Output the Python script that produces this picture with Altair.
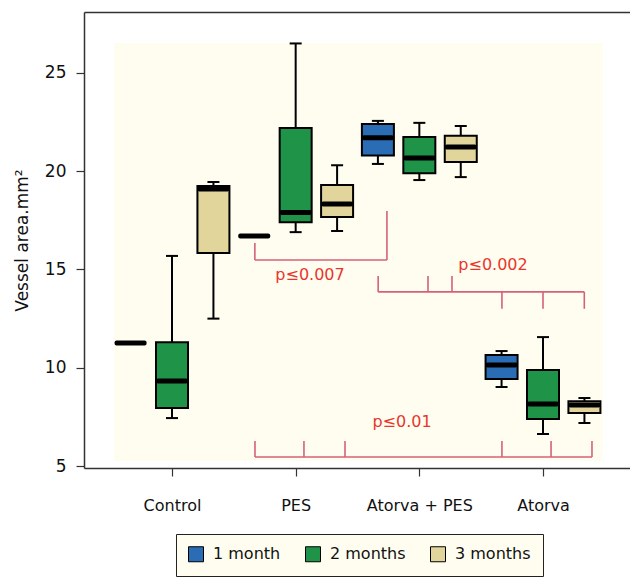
import altair as alt
import pandas as pd

# ---- data ----
groups = ["Control", "PES", "Atorva + PES", "Atorva"]
months = ["1 month", "2 months", "3 months"]
box_group = [g for g in groups for _ in months]
box_month = months * 4
q1 = [11.26, 7.95, 15.84, 16.7, 17.4, 17.67, 20.8, 19.9, 20.47, 9.43, 7.39, 7.7]
q3 = [11.26, 11.3, 19.25, 16.7, 22.2, 19.3, 22.4, 21.74, 21.8, 10.65, 9.89, 8.3]
median = [11.26, 9.33, 19.1, 16.7, 17.9, 18.33, 21.7, 20.67, 21.23, 10.14, 8.16, 8.1]
low = [11.26, 7.44, 12.5, 16.7, 16.9, 16.96, 20.37, 19.55, 19.7, 9.02, 6.63, 7.19]
high = [11.26, 15.69, 19.45, 16.7, 26.5, 20.3, 22.56, 22.46, 22.3, 10.85, 11.56, 8.46]
has_box = [False, True, True, False, True, True, True, True, True, True, True, True]

# significance brackets (segments in data units: group position, vessel area)
seg_x = [0.67, 0.67, 1.738,
         1.667, 1.667, 2.07, 2.264, 2.668, 3.0, 3.334,
         0.671, 0.671, 1.067, 1.399, 2.668, 3.065, 3.396]
seg_x2 = [0.67, 1.738, 1.738,
          3.334, 1.667, 2.07, 2.264, 2.668, 3.0, 3.334,
          3.396, 0.671, 1.067, 1.399, 2.668, 3.065, 3.396]
seg_y = [16.35, 15.48, 17.98,
         13.86, 14.67, 14.67, 14.67, 13.86, 13.86, 13.86,
         5.46, 6.27, 6.27, 6.27, 6.27, 6.27, 6.27]
seg_y2 = [15.48, 15.48, 15.48,
          13.86, 13.86, 13.86, 13.86, 13.0, 13.0, 13.0,
          5.46, 5.46, 5.46, 5.46, 5.46, 5.46, 5.46]
p_text = ["p≤0.007", "p≤0.002", "p≤0.01"]
p_x = [1.116, 2.596, 1.86]
p_y = [14.72, 15.23, 7.24]

panel_x = [-0.469]
panel_x2 = [3.485]
panel_y = [5.25]
panel_y2 = [26.53]

month_colors = ["#2a6db5", "#1f9347", "#e2d59b"]
OFFSET = 0.335

# ---- tables ----
gi = {g: i for i, g in enumerate(groups)}
mi = {m: i for i, m in enumerate(months)}
df = pd.DataFrame({
    "group": box_group, "month": box_month, "q1": q1, "q3": q3,
    "median": median, "low": low, "high": high, "has_box": has_box,
})
df["pos"] = [gi[g] + (mi[m] - 1) * OFFSET for g, m in zip(box_group, box_month)]
boxes = df[df["has_box"]]
segs = pd.DataFrame({"x": seg_x, "x2": seg_x2, "y": seg_y, "y2": seg_y2})
ptxt = pd.DataFrame({"t": p_text, "x": p_x, "y": p_y})
panel = pd.DataFrame({"x": panel_x, "x2": panel_x2, "y": panel_y, "y2": panel_y2})

FONT = "DejaVu Sans"
xscale = alt.Scale(domain=[-0.7116, 3.7035], nice=False, zero=False)
yscale = alt.Scale(domain=[4.9, 28.1], nice=False, zero=False)
label_expr = ("datum.value == 0 ? 'Control' : datum.value == 1 ? 'PES' : "
              "datum.value == 2 ? 'Atorva + PES' : 'Atorva'")
xaxis = alt.Axis(values=[0, 1, 2, 3], labelExpr=label_expr, title=None, grid=False,
                 tickSize=8, tickColor="#333", domainColor="#333", domainWidth=1.5,
                 tickWidth=1.2, labelPadding=21, labelFontSize=16, labelFont=FONT,
                 labelColor="#111")
yaxis = alt.Axis(values=[5, 10, 15, 20, 25], title="Vessel area.mm²", grid=False,
                 tickSize=8, tickColor="#333", domainColor="#333", domainWidth=1.5,
                 tickWidth=1.2, labelPadding=10, labelFontSize=17, labelFont=FONT,
                 labelColor="#111", titleFontSize=17, titleFont=FONT,
                 titleFontWeight="normal", titleColor="#111", titlePadding=13)
topaxis = alt.Axis(orient="top", labels=False, ticks=False, title=None, grid=False,
                   domainColor="#333", domainWidth=1.5)

bg = alt.Chart(panel).mark_rect(color="#fffdf0").encode(
    x=alt.X("x:Q", scale=xscale, axis=topaxis), x2="x2:Q",
    y=alt.Y("y:Q", scale=yscale, axis=yaxis), y2="y2:Q",
)

whisk = alt.Chart(df).mark_rule(color="black", strokeWidth=2).encode(
    x=alt.X("pos:Q", scale=xscale, axis=xaxis),
    y=alt.Y("low:Q", scale=yscale, axis=yaxis), y2="high:Q",
)
cap_hi = alt.Chart(df).mark_rect(color="black", width=12, height=2).encode(
    x=alt.X("pos:Q", scale=xscale, axis=None), y=alt.Y("high:Q", scale=yscale, axis=yaxis),
)
cap_lo = alt.Chart(df).mark_rect(color="black", width=12, height=2).encode(
    x=alt.X("pos:Q", scale=xscale, axis=None), y=alt.Y("low:Q", scale=yscale, axis=yaxis),
)
box = alt.Chart(boxes).mark_rect(width=32, stroke="black", strokeWidth=2).encode(
    x=alt.X("pos:Q", scale=xscale, axis=None),
    y=alt.Y("q1:Q", scale=yscale, axis=yaxis), y2="q3:Q",
    fill=alt.Fill("month:N", scale=alt.Scale(domain=months, range=month_colors),
                  legend=alt.Legend(title=None, orient="none", direction="horizontal",
                                    legendX=92, legendY=522, symbolType="square",
                                    symbolSize=225, symbolStrokeColor="black",
                                    symbolStrokeWidth=1, symbolOpacity=1,
                                    labelFontSize=16, labelFont=FONT, labelColor="#111",
                                    labelOffset=9, columnPadding=22, padding=12,
                                    strokeColor="#222", fillColor="#fffdf0")),
)
med = alt.Chart(df).mark_rect(color="black", width=32, height=5, cornerRadius=2).encode(
    x=alt.X("pos:Q", scale=xscale, axis=None),
    y=alt.Y("median:Q", scale=yscale, axis=yaxis),
)
brackets = alt.Chart(segs).mark_rule(color="#d6607a", strokeWidth=1.6).encode(
    x=alt.X("x:Q", scale=xscale, axis=None), x2="x2:Q",
    y=alt.Y("y:Q", scale=yscale, axis=yaxis), y2="y2:Q",
)
ptext = alt.Chart(ptxt).mark_text(color="#e8362e", fontSize=16, font=FONT).encode(
    x=alt.X("x:Q", scale=xscale, axis=None), y=alt.Y("y:Q", scale=yscale, axis=yaxis),
    text="t:N",
)

chart = alt.layer(bg, whisk, cap_hi, cap_lo, box, med, brackets, ptext).resolve_axis(
    x="independent"
).properties(
    width=546, height=456,
    autosize=alt.AutoSizeParams(type="none"),
    padding={"left": 84, "top": 12, "right": 0, "bottom": 111},
    background="white",
).configure_view(stroke=None)

chart.save("out.html", embed_options={"renderer": "svg", "actions": False})
